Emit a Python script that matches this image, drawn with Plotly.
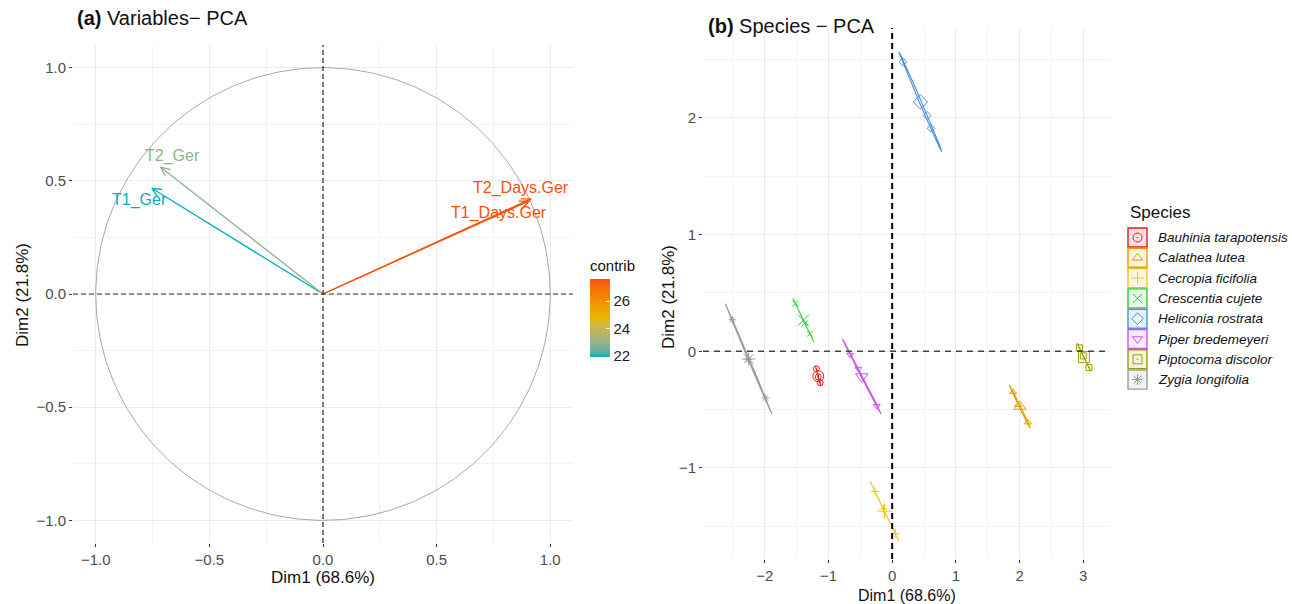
import numpy as np
import plotly.graph_objects as go

W, H = 1292, 604

# ---------------- data: variables PCA ----------------
var_names = ["T1_Ger", "T2_Ger", "T1_Days.Ger", "T2_Days.Ger"]
var_dim1 = [-0.753, -0.714, 0.905, 0.915]
var_dim2 = [0.467, 0.560, 0.410, 0.420]
var_contrib = [21.94, 22.90, 27.56, 27.60]
# label offsets in px (repel-style placement)
var_label_dx = [-12, 12, -30, -10]
var_label_dy = [12, -11, 12, -11]

# ---------------- data: species PCA ----------------
species = ["Bauhinia tarapotensis", "Calathea lutea", "Cecropia ficifolia",
           "Crescentia cujete", "Heliconia rostrata", "Piper bredemeyeri",
           "Piptocoma discolor", "Zygia longifolia"]
sp_colors = ["#E31A1C", "#E69F00", "#EEC41C", "#33CC33",
             "#4A90D9", "#CC55EE", "#9C9C00", "#999999"]
sp_symbols = ["circle-open-dot", "triangle-up-open", "cross-thin-open", "x-thin-open",
              "diamond-open", "triangle-down-open", "square-open-dot", "asterisk-open"]
sp_dim1 = [
    [-1.19, -1.16, -1.13],
    [1.90, 1.98, 2.13],
    [-0.27, -0.14, 0.05],
    [-1.52, -1.37, -1.29],
    [0.17, 0.55, 0.61],
    [-0.66, -0.53, -0.24],
    [2.94, 3.00, 3.09],
    [-2.51, -2.26, -1.99],
]
sp_dim2 = [
    [-0.15, -0.22, -0.27],
    [-0.35, -0.46, -0.61],
    [-1.20, -1.35, -1.56],
    [0.41, 0.24, 0.15],
    [2.48, 2.02, 1.91],
    [-0.03, -0.15, -0.47],
    [0.03, -0.04, -0.14],
    [0.27, -0.07, -0.40],
]

grad_cols = ["#00AFBB", "#E7B800", "#FC4E07"]


# ---- Lab interpolation (as ggplot's gradientn) ----
def _hex2rgb(h):
    return np.array([int(h[i:i + 2], 16) for i in (1, 3, 5)]) / 255.0


def _rgb2lab(c):
    c = np.where(c > 0.04045, ((c + 0.055) / 1.055) ** 2.4, c / 12.92)
    M = np.array([[0.4124, 0.3576, 0.1805], [0.2126, 0.7152, 0.0722],
                  [0.0193, 0.1192, 0.9505]])
    xyz = M @ c / np.array([0.95047, 1.0, 1.08883])
    f = np.where(xyz > 0.008856, np.cbrt(xyz), 7.787 * xyz + 16 / 116)
    return np.array([116 * f[1] - 16, 500 * (f[0] - f[1]), 200 * (f[1] - f[2])])


def _lab2hex(lab):
    L, a, b = lab
    fy = (L + 16) / 116
    fx, fz = fy + a / 500, fy - b / 200
    f = np.array([fx, fy, fz])
    xyz = np.where(f ** 3 > 0.008856, f ** 3, (f - 16 / 116) / 7.787)
    xyz = xyz * np.array([0.95047, 1.0, 1.08883])
    Mi = np.array([[3.2406, -1.5372, -0.4986], [-0.9689, 1.8758, 0.0415],
                   [0.0557, -0.2040, 1.0570]])
    c = Mi @ xyz
    c = np.where(c > 0.0031308, 1.055 * np.clip(c, 0, None) ** (1 / 2.4) - 0.055, 12.92 * c)
    c = np.clip(c, 0, 1)
    return "#%02X%02X%02X" % tuple(int(round(v * 255)) for v in c)


_labs = [_rgb2lab(_hex2rgb(h)) for h in grad_cols]


def grad_color(f):
    f = min(max(f, 0), 1) * (len(_labs) - 1)
    i = min(int(f), len(_labs) - 2)
    w = f - i
    return _lab2hex(_labs[i] * (1 - w) + _labs[i + 1] * w)


cscale = [[k / 20, grad_color(k / 20)] for k in range(21)]
cmin, cmax = min(var_contrib), max(var_contrib)
arrow_cols = [grad_color((c - cmin) / (cmax - cmin)) for c in var_contrib]

FONT = "Liberation Sans"
fig = go.Figure()

# ---- left panel: correlation circle ----
t = np.linspace(0, 2 * np.pi, 361)
fig.add_trace(go.Scatter(x=np.cos(t), y=np.sin(t), mode="lines",
                         line=dict(color="#A8A8A8", width=1), hoverinfo="skip",
                         showlegend=False, xaxis="x", yaxis="y"))

head_len, head_ang = 0.045, np.deg2rad(25)
for name, x, y, col in zip(var_names, var_dim1, var_dim2, arrow_cols):
    fig.add_trace(go.Scatter(x=[0, x], y=[0, y], mode="lines",
                             line=dict(color=col, width=1.3), showlegend=False,
                             xaxis="x", yaxis="y"))
    d = np.arctan2(y, x)
    hx = [x - head_len * np.cos(d + head_ang), x, x - head_len * np.cos(d - head_ang)]
    hy = [y - head_len * np.sin(d + head_ang), y, y - head_len * np.sin(d - head_ang)]
    fig.add_trace(go.Scatter(x=hx, y=hy, mode="lines",
                             line=dict(color=col, width=1.3), showlegend=False,
                             xaxis="x", yaxis="y"))

for name, x, y, col, dx, dy in zip(var_names, var_dim1, var_dim2, arrow_cols,
                                   var_label_dx, var_label_dy):
    fig.add_annotation(x=x, y=y, xref="x", yref="y", text=name, showarrow=False,
                       xanchor="center", yanchor="middle",
                       xshift=dx, yshift=-dy, font=dict(size=16, color=col, family=FONT))

# colour bar via invisible markers
fig.add_trace(go.Scatter(
    x=var_dim1, y=var_dim2, mode="markers", xaxis="x", yaxis="y", showlegend=False,
    hoverinfo="skip",
    marker=dict(size=1, opacity=0, color=var_contrib, colorscale=cscale,
                cmin=cmin, cmax=cmax, showscale=True,
                colorbar=dict(x=590 / W, xanchor="left", y=1 - 257 / H, yanchor="top",
                              lenmode="pixels", len=100, thickness=20, outlinewidth=0,
                              xpad=0, ypad=0,
                              tickvals=[22, 24, 26], ticks="inside", ticklen=4,
                              tickcolor="white",
                              tickfont=dict(size=15, color="#222", family=FONT),
                              title=dict(text="contrib", side="top",
                                         font=dict(size=15, color="#111", family=FONT))))))

# ---- right panel: species ----
r95 = np.sqrt(-2 * np.log(0.05))
for nm, xs, ys, col, sym in zip(species, sp_dim1, sp_dim2, sp_colors, sp_symbols):
    pts = np.column_stack([xs, ys])
    m = pts.mean(axis=0)
    cov = np.cov(pts.T) / len(xs)
    vals, vecs = np.linalg.eigh(cov)
    vals = np.clip(vals, 0, None)
    circ = np.vstack([np.cos(t), np.sin(t)])
    ell = (vecs @ np.diag(np.sqrt(vals)) @ circ) * r95 + m[:, None]
    fig.add_trace(go.Scatter(x=ell[0], y=ell[1], mode="lines",
                             line=dict(color=col, width=1.1), showlegend=False,
                             xaxis="x2", yaxis="y2", hoverinfo="skip"))
    fig.add_trace(go.Scatter(x=xs, y=ys, mode="markers", showlegend=False,
                             marker=dict(symbol=sym, size=6, color=col,
                                         line=dict(color=col, width=1)),
                             xaxis="x2", yaxis="y2", name=nm))
    fig.add_trace(go.Scatter(x=[m[0]], y=[m[1]], mode="markers", showlegend=False,
                             marker=dict(symbol=sym, size=11, color=col,
                                         line=dict(color=col, width=1)),
                             xaxis="x2", yaxis="y2", name=nm))

# ---- custom legend (pixel space axis) ----
leg_x0, leg_y0, leg_step, box = 1128, 228, 20.3, 19
for i, (nm, col, sym) in enumerate(zip(species, sp_colors, sp_symbols)):
    ytop = leg_y0 + i * leg_step
    rgb = tuple(int(col[k:k + 2], 16) for k in (1, 3, 5))
    fig.add_shape(type="rect", xref="x3", yref="y3", x0=leg_x0, x1=leg_x0 + box,
                  y0=ytop, y1=ytop + box, line=dict(color=col, width=1.4),
                  fillcolor="rgba(%d,%d,%d,0.13)" % rgb, layer="below")
    fig.add_trace(go.Scatter(x=[leg_x0 + box / 2], y=[ytop + box / 2], mode="markers",
                             marker=dict(symbol=sym, size=9, color=col,
                                         line=dict(color=col, width=1)),
                             showlegend=False, xaxis="x3", yaxis="y3", hoverinfo="skip"))
    fig.add_annotation(x=leg_x0 + box + 9, y=ytop + box / 2, xref="x3", yref="y3",
                       text="<i>%s</i>" % nm, showarrow=False, xanchor="left",
                       yanchor="middle", font=dict(size=13.5, color="#111", family=FONT))
fig.add_annotation(x=leg_x0, y=212, xref="x3", yref="y3", text="Species",
                   showarrow=False, xanchor="left", yanchor="middle",
                   font=dict(size=17, color="#111", family=FONT))

# ---- reference lines ----
fig.add_shape(type="line", xref="x", yref="y domain", x0=0, x1=0, y0=0, y1=1,
              line=dict(color="black", width=1, dash="5px,3px"))
fig.add_shape(type="line", xref="x domain", yref="y", x0=0, x1=1, y0=0, y1=0,
              line=dict(color="#333", width=1, dash="5px,3px"))
fig.add_shape(type="line", xref="x2", yref="y2 domain", x0=0, x1=0, y0=0, y1=1,
              line=dict(color="black", width=2, dash="6px,4px"))
fig.add_shape(type="line", xref="x2 domain", yref="y2", x0=0, x1=1, y0=0, y1=0,
              line=dict(color="#444", width=1.4, dash="6px,5px"))

# ---- titles ----
tfont = dict(size=20, color="#111", family=FONT)
fig.add_annotation(x=75 / W, y=1 - 18 / H, xref="paper", yref="paper",
                   text="<b>(a)</b> Variables\u2212 PCA", showarrow=False,
                   xanchor="left", yanchor="middle", font=tfont)
fig.add_annotation(x=706 / W, y=1 - 26 / H, xref="paper", yref="paper",
                   text="<b>(b)</b> Species \u2212 PCA", showarrow=False,
                   xanchor="left", yanchor="middle", font=tfont)
afont = dict(size=17, color="#111", family=FONT)
for (px, py, txt, ang, fs) in [(323, 577, "Dim1 (68.6%)", 0, 17),
                               (22, 295, "Dim2 (21.8%)", -90, 17),
                               (907, 595, "Dim1 (68.6%)", 0, 16),
                               (668, 297, "Dim2 (21.8%)", -90, 17)]:
    fig.add_annotation(x=px / W, y=1 - py / H, xref="paper", yref="paper", text=txt,
                       showarrow=False, textangle=ang, xanchor="center",
                       yanchor="middle", font=dict(size=fs, color="#111", family=FONT))

tickfont = dict(size=15, color="#4D4D4D", family=FONT)
common = dict(showgrid=True, gridcolor="#EBEBEB", gridwidth=1, zeroline=False,
              showline=False, ticks="outside", ticklen=3, tickwidth=1,
              tickcolor="#333", tickfont=tickfont)
minor = dict(showgrid=True, gridcolor="#F3F3F3", ticks="")

fig.update_layout(
    width=W, height=H, margin=dict(l=0, r=0, t=0, b=0),
    paper_bgcolor="white", plot_bgcolor="rgba(0,0,0,0)", showlegend=False,
    xaxis=dict(domain=[73 / W, 573 / W], range=[-1.1, 1.1], tick0=0, dtick=0.5,
               tickformat=".1f", minor=dict(dtick=0.25, **minor), anchor="y", **common),
    yaxis=dict(domain=[1 - 543 / H, 1 - 45 / H], range=[-1.1, 1.1], tick0=0, dtick=0.5,
               tickformat=".1f", minor=dict(dtick=0.25, **minor), anchor="x", **common),
    xaxis2=dict(domain=[703 / W, 1110 / W], range=[-2.97, 3.42], tick0=0, dtick=1,
                minor=dict(dtick=0.5, **minor), anchor="y2", **common),
    yaxis2=dict(domain=[1 - 559 / H, 1 - 28 / H], range=[-1.78, 2.77], tick0=0, dtick=1,
                minor=dict(dtick=0.5, **minor), anchor="x2", **common),
    xaxis3=dict(domain=[0, 1], range=[0, W], visible=False, anchor="y3"),
    yaxis3=dict(domain=[0, 1], range=[H, 0], visible=False, anchor="x3"),
)

fig.write_html("out.html")
